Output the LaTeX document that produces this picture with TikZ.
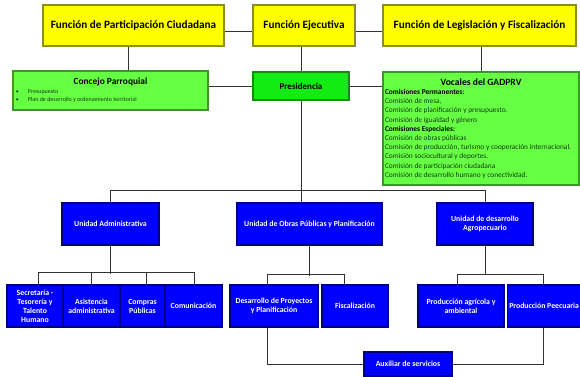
\documentclass[tikz,border=0pt]{standalone}
\usepackage{fontspec}
\setmainfont{Carlito}
\definecolor{funyellow}{RGB}{255,255,0}
\definecolor{funborder}{RGB}{140,140,40}
\definecolor{presgreen}{RGB}{20,235,20}
\definecolor{presborder}{RGB}{20,140,20}
\definecolor{lightgreen}{RGB}{102,255,68}
\definecolor{lightborder}{RGB}{60,150,40}
\definecolor{unitblue}{RGB}{0,0,255}
\definecolor{unitborder}{RGB}{0,0,130}
\definecolor{txtgreen}{RGB}{20,60,20}

\begin{document}
\begin{tikzpicture}[x=1pt,y=1pt,
  funbox/.style={draw=funborder,fill=funyellow,line width=1.4pt,inner sep=2pt,
    font=\fontsize{11.2}{13}\selectfont\bfseries},
  presbox/.style={draw=presborder,fill=presgreen,line width=1.2pt,inner sep=2pt,
    font=\fontsize{9}{10}\selectfont\bfseries},
  greenbox/.style={draw=lightborder,fill=lightgreen,line width=1.2pt,inner sep=2pt,align=left},
  unitbox/.style={draw=unitborder,fill=unitblue,line width=1.2pt,inner sep=1pt,
    text=white,align=center,font=\fontsize{7.8}{9}\selectfont\bfseries},
  link/.style={draw=black!80,line width=0.8pt}]
\useasboundingbox (0,0) rectangle (580,376);
% draw functions
\node[funbox,minimum width=181pt,minimum height=41pt] (fpc) at (133.5,350.5) {Función de Participación Ciudadana};
\node[funbox,minimum width=102pt,minimum height=41pt] (fe) at (304,350.5) {Función Ejecutiva};
\node[funbox,minimum width=193pt,minimum height=41pt] (flf) at (479.5,350.5) {Función de Legislación y Fiscalización};
% draw second level
\node[greenbox,minimum width=195pt,minimum height=39pt,text width=189pt] (cp) at (110.5,285.5)
  {\spaceskip=0pt\xspaceskip=0pt
   {\centering\fontsize{9.4}{10.5}\selectfont\bfseries Concejo Parroquial\par}
   \fontsize{6}{8.5}\selectfont\color{txtgreen}\textbullet\hspace{9pt}Presupuesto\\
   \textbullet\hspace{9pt}Plan de desarrollo y ordenamiento territorial\par};
\node[presbox,minimum width=96pt,minimum height=28pt] (pres) at (301,290) {Presidencia};
\node[greenbox,minimum width=196pt,minimum height=113pt,text width=192pt] (voc) at (481,247.5)
  {\spaceskip=0pt\xspaceskip=0pt
   {\centering\fontsize{9.6}{10.5}\selectfont\bfseries Vocales del GADPRV\par}
   \fontsize{7.4}{9.2}\selectfont
   \textbf{Comisiones Permanentes:}\\
   {\color{txtgreen}Comisión de mesa,\\
   Comisión de planificación y presupuesto.\\
   Comisión de igualdad y género}\\
   \textbf{Comisiones Especiales:}\\
   {\color{txtgreen}Comisión de obras públicas\\
   \mbox{Comisión de producción, turismo y cooperación internacional.}\\
   Comisión sociocultural y deportes.\\
   Comisión de participación ciudadana\\
   Comisión de desarrollo humano y conectividad.}\par};
% draw units
\node[unitbox,minimum width=97pt,minimum height=42pt] (ua) at (110.5,152) {Unidad Administrativa};
\node[unitbox,minimum width=145pt,minimum height=42pt] (uop) at (309.5,152) {Unidad de Obras Públicas y Planificación};
\node[unitbox,minimum width=96pt,minimum height=42pt] (uda) at (485,152) {Unidad de desarrollo\\Agropecuario};
% draw sections
\node[unitbox,minimum width=56pt,minimum height=42pt] (sec) at (35,70) {Secretaría -\\Tesorería y\\Talento\\Humano};
\node[unitbox,minimum width=57pt,minimum height=42pt] (asis) at (91.5,70) {Asistencia\\administrativa};
\node[unitbox,minimum width=45pt,minimum height=42pt] (comp) at (142.5,70) {Compras\\Públicas};
\node[unitbox,minimum width=57pt,minimum height=42pt] (com) at (193.5,70) {Comunicación};
\node[unitbox,minimum width=88pt,minimum height=42pt] (dpp) at (274,70) {Desarrollo de Proyectos\\y Planificación};
\node[unitbox,minimum width=66pt,minimum height=42pt] (fis) at (355,70) {Fiscalización};
\node[unitbox,minimum width=86pt,minimum height=42pt] (apa) at (461,70) {Producción agrícola y\\ambiental};
\node[unitbox,minimum width=73pt,minimum height=42pt,anchor=west] (pp) at (507,70) {Producción Peecuaria};
\node[unitbox,minimum width=88pt,minimum height=24pt] (aux) at (408,12) {Auxiliar de servicios};
% draw top links
\draw[link] ([yshift=-5.5pt]fpc.east) -- ([yshift=-5.5pt]fe.west);
\draw[link] ([yshift=-5.5pt]fe.east) -- ([yshift=-5.5pt]flf.west);
\draw[link] ([xshift=-5.5pt]fpc.south) -- ([xshift=-5.5pt]fpc.south |- cp.north);
\draw[link] (pres.north) -- (pres.north |- fe.south);
\draw[link] (voc.north) -- (voc.north |- flf.south);
\draw[link] (pres.west) -- (pres.west -| cp.east);
\draw[link] (pres.east) -- (pres.east -| voc.west);
% draw unit links
\draw[link] (pres.south) -- (pres.south |- uop.north);
\draw[link] (ua.north) -- ++(0,12) -| (uda.north);
% draw section links
\draw[link] (ua.south) -- ++(0,-28);
\draw[link] ([xshift=3pt]sec.north) -- ++(0,12) -| ([xshift=0.5pt]com.north);
\draw[link] (asis.north) -- ++(0,12);
\draw[link] ([xshift=3.5pt]comp.north) -- ++(0,12);
\draw[link] (uop.south) -- ++(0,-30);
\draw[link] ([xshift=-7pt]dpp.north) -- ++(0,10) -| ([xshift=-11pt]fis.north);
\draw[link] (uda.south) -- ++(0,-29);
\draw[link] ([xshift=-4pt]apa.north) -- ++(0,10) -| ([xshift=-0.5pt]pp.north);
% draw auxiliary links
\draw[link] ([xshift=-7pt]dpp.south) |- (aux.west);
\draw[link] ([xshift=-0.5pt]pp.south) |- (aux.east);
\end{tikzpicture}
\end{document}
